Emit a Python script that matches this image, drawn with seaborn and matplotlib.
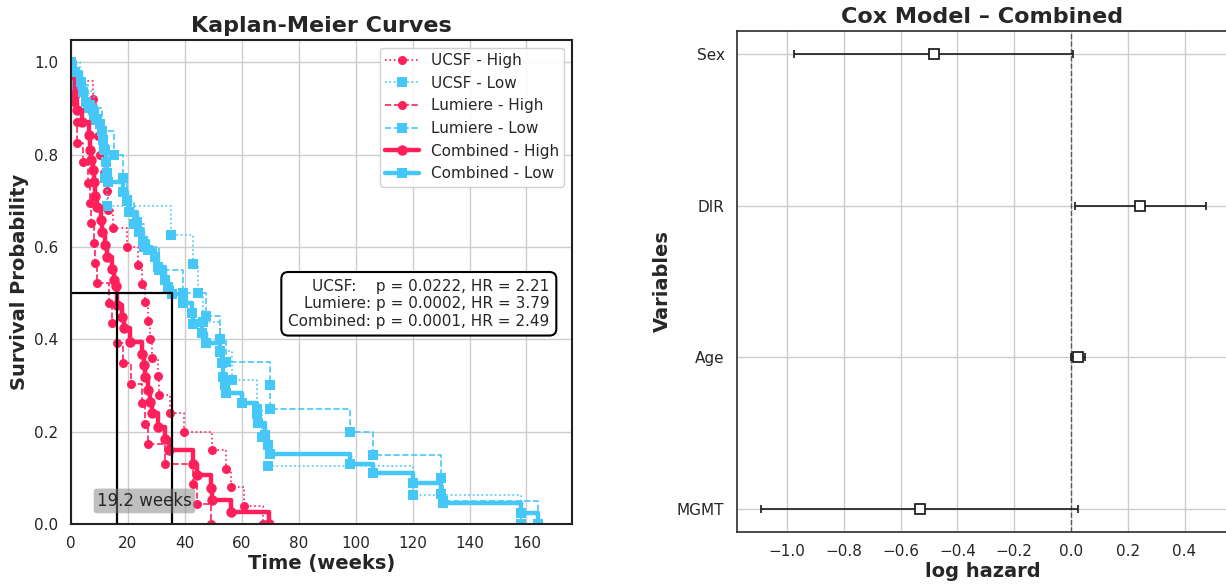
import matplotlib
matplotlib.use("Agg")
import matplotlib.pyplot as plt
import seaborn as sns
import pandas as pd

# Kaplan-Meier step data (time in weeks, survival probability)
ucsf_high_t = [0, 1.0, 7.8, 8.8, 9.5, 10.2, 11.5, 12.5, 13.1, 14.6, 19.6, 23.7, 24.9, 26.1, 27.0,
               27.8, 28.4, 30.5, 31.0, 34.7, 39.8, 49.7, 54.6, 56.1, 60.7, 67.5]
ucsf_high_s = [1.0, 0.96, 0.92, 0.88, 0.84, 0.80, 0.76, 0.72, 0.68, 0.64, 0.60, 0.56, 0.52, 0.48, 0.44,
               0.40, 0.36, 0.32, 0.28, 0.24, 0.20, 0.16, 0.12, 0.08, 0.04, 0.0]

ucsf_low_t = [0, 3.0, 8.0, 11.5, 12.0, 12.5, 35.3, 42.9, 44.5, 46.4, 52.3, 56.4, 65.2, 67.0, 69.2, 120.1, 158.1]
ucsf_low_s = [1.0, 0.9375, 0.875, 0.8125, 0.75, 0.6875, 0.625, 0.5625, 0.5, 0.4375, 0.375, 0.3125, 0.25,
              0.1875, 0.125, 0.0625, 0.0]

lum_high_t = [0, 0.5, 1.0, 2.0, 2.2, 4.1, 6.1, 6.8, 7.2, 8.1, 8.6, 9.2, 13.2, 14.5, 16.1, 18.1, 21.1,
              24.9, 26.1, 27.0, 33.1, 42.9, 44.1, 49.1]
lum_high_s = [1.0, 0.957, 0.913, 0.870, 0.826, 0.783, 0.739, 0.696, 0.652, 0.609, 0.565, 0.522, 0.478,
              0.435, 0.391, 0.348, 0.304, 0.261, 0.217, 0.174, 0.130, 0.087, 0.043, 0.0]

lum_low_t = [0, 1.5, 6.0, 10.8, 15.2, 18.4, 19.5, 22.0, 25.5, 31.0, 39.5, 47.6, 52.3, 54.6, 69.8, 70.0,
             98.1, 106.0, 130.0, 130.8, 164.0]
lum_low_s = [1.0, 0.95, 0.90, 0.85, 0.80, 0.75, 0.70, 0.65, 0.60, 0.55, 0.50, 0.45, 0.40, 0.35, 0.30,
             0.25, 0.20, 0.15, 0.10, 0.05, 0.0]

comb_high_t = [0, 0.9, 1.5, 2.1, 3.9, 6.2, 6.8, 7.1, 7.6, 8.0, 8.6, 9.1, 10.6, 10.9, 11.8, 12.6, 14.4,
               15.0, 15.8, 16.2, 17.9, 18.5, 20.8, 24.9, 25.5, 25.9, 27.0, 27.8, 28.4, 30.5, 33.1, 34.3,
               42.9, 44.1, 49.1, 49.4, 56.1, 69.5]
comb_high_s = [1.0, 0.976, 0.93, 0.896, 0.871, 0.842, 0.81, 0.788, 0.766, 0.741, 0.71, 0.687, 0.658,
               0.633, 0.605, 0.579, 0.553, 0.528, 0.515, 0.474, 0.449, 0.424, 0.395, 0.369, 0.344, 0.319,
               0.29, 0.265, 0.24, 0.211, 0.183, 0.16, 0.131, 0.106, 0.077, 0.052, 0.025, 0.0]

comb_low_t = [0, 1.5, 3.4, 4.1, 5.3, 7.8, 9.0, 10.2, 10.9, 11.3, 11.9, 12.2, 12.5, 13.0, 18.4, 19.5,
              20.4, 23.3, 24.0, 25.2, 27.1, 29.5, 30.6, 33.0, 34.1, 35.4, 39.4, 42.4, 42.9, 45.9, 47.6,
              52.3, 52.9, 53.4, 54.0, 54.6, 59.9, 65.2, 65.8, 68.1, 69.2, 69.8, 98.1, 106.0, 120.1,
              130.0, 130.6, 158.1, 164.0]
comb_low_s = [1.0, 0.979, 0.957, 0.936, 0.914, 0.896, 0.878, 0.867, 0.851, 0.831, 0.81, 0.784, 0.759,
              0.741, 0.719, 0.701, 0.676, 0.654, 0.633, 0.612, 0.593, 0.579, 0.557, 0.528, 0.514, 0.499,
              0.478, 0.456, 0.434, 0.413, 0.391, 0.373, 0.348, 0.319, 0.301, 0.283, 0.261, 0.239, 0.218,
              0.193, 0.171, 0.152, 0.131, 0.11, 0.088, 0.066, 0.045, 0.023, 0.0]

median_high = 16.2
median_low = 35.4

stats_text = ("UCSF:    p = 0.0222, HR = 2.21\n"
              "Lumiere: p = 0.0002, HR = 3.79\n"
              "Combined: p = 0.0001, HR = 2.49")

# Cox model (log hazard with 95% CI)
cox_vars = ["MGMT", "Age", "DIR", "Sex"]
cox_coef = [-0.533, 0.025, 0.243, -0.482]
cox_lower = [-1.090, 0.000, 0.014, -0.975]
cox_upper = [0.025, 0.050, 0.475, 0.007]

HIGH = "#ff1f5b"
LOW = "#45c8f8"

sns.set_theme(style="whitegrid")
plt.rcParams["font.family"] = ["DejaVu Sans"]

fig = plt.figure(figsize=(12.26, 5.87), dpi=100)
ax1 = fig.add_axes([71 / 1226, 63 / 587, 501 / 1226, 484 / 587])
ax2 = fig.add_axes([737 / 1226, 55 / 587, 491 / 1226, 501 / 587])

# --- Kaplan-Meier curves
curves = [
    ("UCSF - High", ucsf_high_t, ucsf_high_s, HIGH, ":", "o", 1.2, 6.5),
    ("UCSF - Low", ucsf_low_t, ucsf_low_s, LOW, ":", "s", 1.2, 6.5),
    ("Lumiere - High", lum_high_t, lum_high_s, HIGH, "--", "o", 1.2, 6.5),
    ("Lumiere - Low", lum_low_t, lum_low_s, LOW, "--", "s", 1.2, 6.5),
    ("Combined - High", comb_high_t, comb_high_s, HIGH, "-", "o", 3.2, 7.5),
    ("Combined - Low", comb_low_t, comb_low_s, LOW, "-", "s", 3.2, 7.5),
]
for label, t, s, color, ls, mk, lw, ms in curves:
    df = pd.DataFrame({"time": t, "surv": s})
    sns.lineplot(data=df, x="time", y="surv", ax=ax1, label=label, color=color,
                 linestyle=ls, marker=mk, markersize=ms, linewidth=lw, markeredgewidth=0,
                 drawstyle="steps-post", estimator=None, sort=False)

# median survival markers
ax1.plot([0, median_low], [0.5, 0.5], color="black", lw=1.6)
ax1.plot([median_high, median_high], [0, 0.5], color="black", lw=1.6)
ax1.plot([median_low, median_low], [0, 0.5], color="black", lw=1.6)
ax1.text((median_high + median_low) / 2, 0.05, f"{median_low - median_high:.1f} weeks",
         ha="center", va="center", fontsize=12, color=".15",
         bbox=dict(facecolor="gray", alpha=0.5, edgecolor="none", boxstyle="round,pad=0.2"))

ax1.text(0.955, 0.455, stats_text, transform=ax1.transAxes, ha="right", va="center",
         multialignment="right", fontsize=11, color=".15",
         bbox=dict(boxstyle="round,pad=0.45", facecolor="white", edgecolor="black", linewidth=1.5))

ax1.set_xlim(0, 176)
ax1.set_ylim(0, 1.048)
ax1.set_xticks(range(0, 161, 20))
ax1.set_title("Kaplan-Meier Curves", fontsize=16, fontweight="bold")
ax1.set_xlabel("Time (weeks)", fontsize=14, fontweight="bold", labelpad=2)
ax1.set_ylabel("Survival Probability", fontsize=14, fontweight="bold")
ax1.tick_params(labelsize=11, pad=3)
ax1.legend(loc="upper right", fontsize=11, framealpha=0.9, borderpad=0.35, labelspacing=0.5,
           handlelength=2.2)
for sp in ax1.spines.values():
    sp.set_color("#222222")
    sp.set_linewidth(1.5)

# --- Cox forest plot
ypos = list(range(len(cox_vars)))
err_lo = [c - lo for c, lo in zip(cox_coef, cox_lower)]
err_hi = [hi - c for c, hi in zip(cox_coef, cox_upper)]
ax2.errorbar(cox_coef, ypos, xerr=[err_lo, err_hi], fmt="s", color="k", ecolor="#222222",
             markerfacecolor="white", markeredgewidth=1.25, elinewidth=1.25, capsize=3, markersize=7)
ax2.set_ylim(-0.15, 3.15)
ax2.set_xlim(-1.176, 0.553)
ax2.axvline(0, linestyle="--", linewidth=1, alpha=0.65, color="k")
ax2.set_yticks(ypos)
ax2.set_yticklabels(cox_vars)
ax2.set_xticks([-1.0, -0.8, -0.6, -0.4, -0.2, 0.0, 0.2, 0.4])
ax2.set_title("Cox Model – Combined", fontsize=16, fontweight="bold")
ax2.set_xlabel("log hazard", fontsize=14, fontweight="bold", labelpad=2)
ax2.set_ylabel("Variables", fontsize=14, fontweight="bold")
ax2.tick_params(labelsize=11, pad=3)
for sp in ax2.spines.values():
    sp.set_color("#333333")
    sp.set_linewidth(1.25)

fig.savefig("out.png", dpi=100)
